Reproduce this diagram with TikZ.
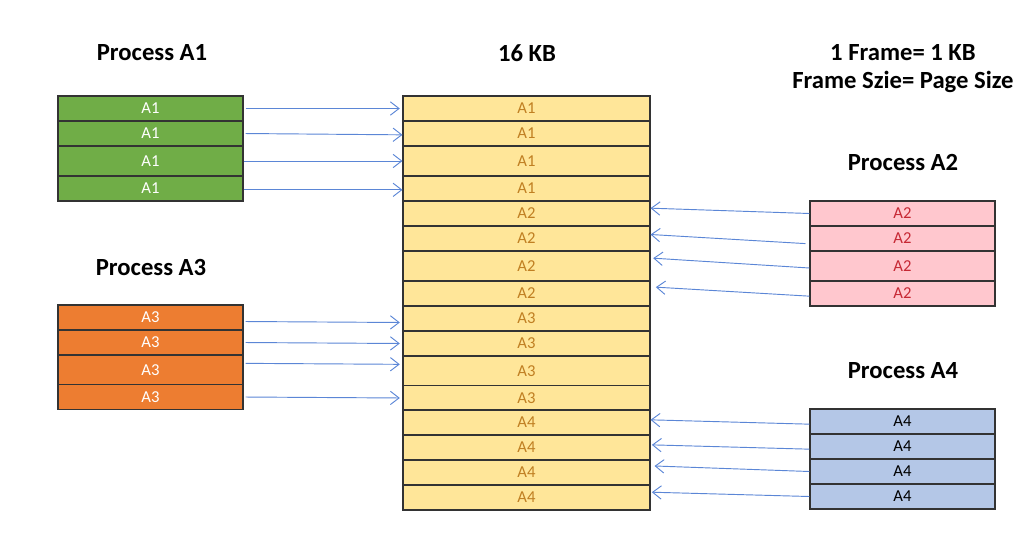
\documentclass[tikz,border=0pt]{standalone}
\usepackage{fontspec}
\setmainfont{Carlito}
\usepackage{xcolor}
\usetikzlibrary{arrows.meta}

\definecolor{pgreen}{HTML}{70AD47}
\definecolor{porange}{HTML}{ED7D31}
\definecolor{ppink}{HTML}{FFC7CE}
\definecolor{pred}{HTML}{C62834}
\definecolor{pblue}{HTML}{B4C7E7}
\definecolor{pyellow}{HTML}{FFE699}
\definecolor{pbrown}{HTML}{C07F22}
\definecolor{parrow}{HTML}{5B86D6}

\tikzset{
  cell/.style={draw=black!80, line width=0.8pt, inner sep=0pt,
    minimum width=138.75pt, minimum height=18.75pt,
    font=\fontsize{12.5}{13}\selectfont},
  mem/.style={cell, minimum width=185.25pt, fill=pyellow, text=pbrown},
  tall/.style={minimum height=22.5pt},
  title/.style={font=\fontsize{18.5}{20}\selectfont\bfseries},
  map/.style={draw=parrow, line width=0.7pt,
    -{Straight Barb[length=6.5pt,width=10pt]}}
}

\begin{document}
\begin{tikzpicture}[x=0.75pt,y=-0.75pt]
            \useasboundingbox (0,0) rectangle (1033,533);

            % titles
            \node[title] at (152,53) (tA1) {Process A1};
            \node[title] at (527,53) (tMem) {16 KB};
            \node[title] at (903,53) (tFrame) {1 Frame= 1 KB};
            \node[title] at (903,82) (tSize) {Frame Szie= Page Size};
            \node[title] at (903,162) (tA2) {Process A2};
            \node[title] at (151,267) (tA3) {Process A3};
            \node[title] at (903,371) (tA4) {Process A4};

            % memory frames
            \node[mem] at (526.5,108.5) (m1) {A1};
            \node[mem] at (526.5,133.5) (m2) {A1};
            \node[mem,tall] at (526.5,161) (m3) {A1};
            \node[mem] at (526.5,188.5) (m4) {A1};
            \node[mem] at (526.5,213.5) (m5) {A2};
            \node[mem] at (526.5,238.5) (m6) {A2};
            \node[mem,tall] at (526.5,266) (m7) {A2};
            \node[mem] at (526.5,293.5) (m8) {A2};
            \node[mem] at (526.5,318.5) (m9) {A3};
            \node[mem] at (526.5,343.5) (m10) {A3};
            \node[mem,tall] at (526.5,371) (m11) {A3};
            \node[mem] at (526.5,398) (m12) {A3};
            \node[mem] at (526.5,422.5) (m13) {A4};
            \node[mem] at (526.5,447.5) (m14) {A4};
            \node[mem] at (526.5,472.5) (m15) {A4};
            \node[mem] at (526.5,497.5) (m16) {A4};

            % process A1
            \node[cell,fill=pgreen,text=white] at (150.5,108.5) (a1p1) {A1};
            \node[cell,fill=pgreen,text=white] at (150.5,133.5) (a1p2) {A1};
            \node[cell,tall,fill=pgreen,text=white] at (150.5,161) (a1p3) {A1};
            \node[cell,fill=pgreen,text=white] at (150.5,188.5) (a1p4) {A1};

            % process A3
            \node[cell,fill=porange,text=white] at (150.5,317.5) (a3p1) {A3};
            \node[cell,fill=porange,text=white] at (150.5,342.5) (a3p2) {A3};
            \node[cell,tall,fill=porange,text=white] at (150.5,370) (a3p3) {A3};
            \node[cell,fill=porange,text=white] at (150.5,397) (a3p4) {A3};

            % process A2
            \node[cell,fill=ppink,text=pred] at (902.5,213.5) (a2p1) {A2};
            \node[cell,fill=ppink,text=pred] at (902.5,238.5) (a2p2) {A2};
            \node[cell,tall,fill=ppink,text=pred] at (902.5,266) (a2p3) {A2};
            \node[cell,fill=ppink,text=pred] at (902.5,293.5) (a2p4) {A2};

            % process A4
            \node[cell,fill=pblue] at (902.5,421.5) (a4p1) {A4};
            \node[cell,fill=pblue] at (902.5,446.5) (a4p2) {A4};
            \node[cell,fill=pblue] at (902.5,471.5) (a4p3) {A4};
            \node[cell,fill=pblue] at (902.5,496.5) (a4p4) {A4};

            % pages to frames
            \draw[map,shorten <=1.5pt,shorten >=2pt] (a1p1.east) -- (m1.west);
            \draw[map,shorten <=1.5pt] (a1p2.east) -- ([yshift=-1pt]m2.west);
            \draw[map] (a1p3.east) -- (m3.west);
            \draw[map] ([yshift=-1pt]a1p4.east) -- ([yshift=-1pt]m4.west);
            \draw[map,shorten <=1.5pt,shorten >=2pt] ([yshift=-3pt]a3p1.east) -- ([yshift=-3pt]m9.west);
            \draw[map,shorten <=1.5pt,shorten >=2pt] (a3p2.east) -- (m10.west);
            \draw[map,shorten <=1.5pt,shorten >=2pt] ([yshift=5pt]a3p3.east) -- ([yshift=5pt]m11.west);
            \draw[map,shorten <=1.5pt,shorten >=2pt] (a3p4.east) -- (m12.west);

            \draw[map] (a2p1.west) -- ([yshift=4pt]m5.east);
            \draw[map,shorten <=3pt] ([yshift=-4pt]a2p2.west) -- ([yshift=3pt]m6.east);
            \draw[map,shorten >=2pt] ([yshift=-1.5pt]a2p3.west) -- ([yshift=6pt]m7.east);
            \draw[map,shorten >=4pt] ([yshift=-2pt]a2p4.west) -- ([yshift=5pt]m8.east);
            \draw[map] ([yshift=-2pt]a4p1.west) -- ([yshift=2pt]m13.east);
            \draw[map,shorten >=1pt] ([yshift=-2pt]a4p2.west) -- ([yshift=2pt]m14.east);
            \draw[map,shorten >=3pt] (a4p3.west) -- ([yshift=5pt]m15.east);
            \draw[map,shorten >=1pt] (a4p4.west) -- ([yshift=4pt]m16.east);
        \end{tikzpicture}
\end{document}
